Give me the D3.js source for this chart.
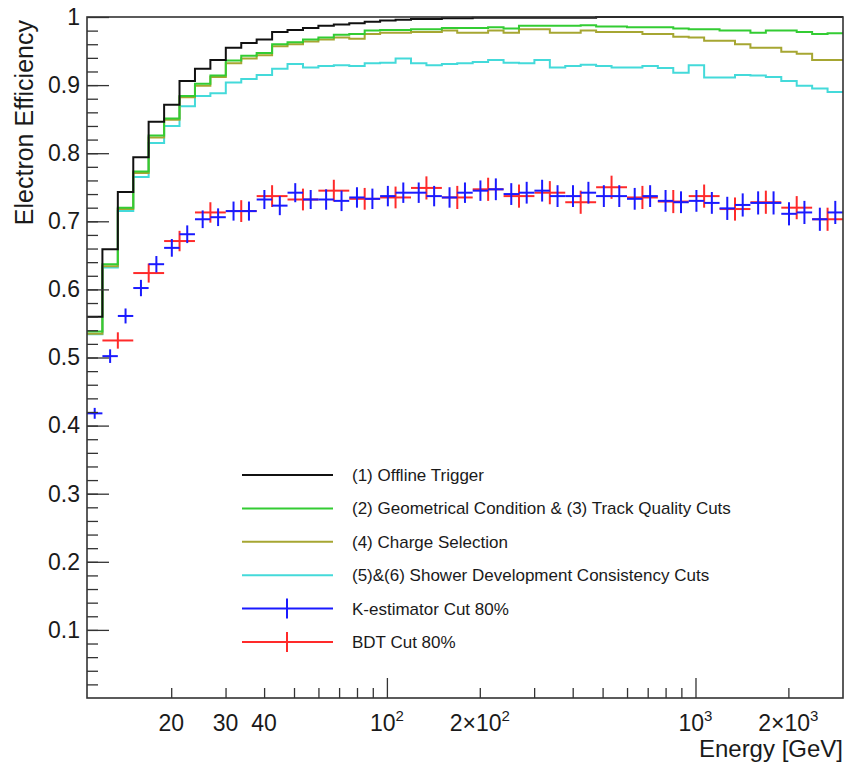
<!DOCTYPE html>
<html>
<head>
<meta charset="utf-8">
<script src="https://cdn.jsdelivr.net/npm/d3@7"></script>
<style>
  body { margin: 0; background: #fff; }
  svg text { font-family: "Liberation Sans", Arial, Helvetica, sans-serif; fill: #1a1a1a; }
</style>
</head>
<body>
<svg id="chart" width="847" height="765"></svg>
<script>
// bin edges in GeV (20 bins per decade)
const binEdges = [10.67, 11.97, 13.43, 15.07, 16.90, 18.97, 21.28, 23.88, 26.79, 30.06,
  33.73, 37.84, 42.46, 47.64, 53.46, 59.98, 67.30, 75.51, 84.72, 95.06,
  106.7, 119.7, 134.3, 150.7, 169.0, 189.7, 212.8, 238.8, 267.9, 300.6,
  337.3, 378.4, 424.6, 476.4, 534.6, 599.8, 673.0, 755.1, 847.2, 950.6,
  1066.6, 1196.7, 1342.8, 1506.6, 1690.4, 1896.7, 2128.1, 2387.8, 2679.2, 3006.1];

// BDT points use bins twice as wide
const bdtEdges = [11.97, 15.07, 18.97, 23.88, 30.06, 37.84, 47.64, 59.98, 75.51, 95.06,
  119.7, 150.7, 189.7, 238.8, 300.6, 378.4, 476.4, 599.8, 755.1, 950.6,
  1196.7, 1506.6, 1896.7, 2387.8, 3006.1];

const offlineTrigger = [0.560, 0.659, 0.743, 0.794, 0.846, 0.871, 0.906, 0.924, 0.937, 0.955,
  0.962, 0.967, 0.978, 0.981, 0.984, 0.987, 0.989, 0.991, 0.993, 0.995,
  0.996, 0.997, 0.997, 0.998, 0.998, 0.999, 0.999, 0.999, 0.999, 0.999,
  0.999, 0.999, 0.999, 1.000, 1.000, 1.000, 1.000, 1.000, 1.000, 1.000,
  1.000, 1.000, 1.000, 1.000, 1.000, 1.000, 1.000, 1.000, 1.000];

const geomTrackCuts = [0.538, 0.637, 0.720, 0.773, 0.826, 0.851, 0.884, 0.902, 0.914, 0.936,
  0.943, 0.947, 0.960, 0.963, 0.967, 0.970, 0.974, 0.975, 0.980, 0.981,
  0.981, 0.982, 0.982, 0.984, 0.984, 0.984, 0.985, 0.983, 0.987, 0.987,
  0.987, 0.987, 0.988, 0.986, 0.986, 0.985, 0.985, 0.985, 0.983, 0.982,
  0.982, 0.980, 0.980, 0.977, 0.980, 0.980, 0.978, 0.975, 0.976];

const chargeSelection = [0.535, 0.634, 0.718, 0.771, 0.823, 0.849, 0.882, 0.899, 0.912, 0.932,
  0.939, 0.944, 0.957, 0.960, 0.964, 0.967, 0.970, 0.968, 0.975, 0.977,
  0.977, 0.978, 0.978, 0.980, 0.977, 0.977, 0.980, 0.977, 0.982, 0.982,
  0.977, 0.977, 0.980, 0.978, 0.978, 0.978, 0.975, 0.975, 0.971, 0.970,
  0.965, 0.965, 0.960, 0.955, 0.955, 0.949, 0.946, 0.937, 0.937];

const showerCuts = [0.534, 0.632, 0.715, 0.765, 0.815, 0.840, 0.869, 0.884, 0.888, 0.904,
  0.909, 0.915, 0.924, 0.931, 0.926, 0.928, 0.929, 0.928, 0.932, 0.933,
  0.939, 0.932, 0.929, 0.931, 0.932, 0.934, 0.937, 0.933, 0.932, 0.937,
  0.926, 0.928, 0.930, 0.928, 0.926, 0.926, 0.928, 0.925, 0.918, 0.929,
  0.911, 0.911, 0.915, 0.914, 0.912, 0.906, 0.899, 0.895, 0.890];

const kEstimator = [0.418, 0.502, 0.561, 0.602, 0.637, 0.661, 0.681, 0.703, 0.706, 0.715,
  0.715, 0.732, 0.723, 0.742, 0.732, 0.732, 0.730, 0.735, 0.733, 0.737,
  0.742, 0.742, 0.737, 0.735, 0.742, 0.745, 0.747, 0.740, 0.742, 0.745,
  0.737, 0.737, 0.742, 0.737, 0.737, 0.733, 0.737, 0.730, 0.728, 0.730,
  0.727, 0.719, 0.724, 0.727, 0.727, 0.711, 0.713, 0.703, 0.713];
const kEstimatorErr = [0.008, 0.010, 0.011, 0.012, 0.012, 0.013, 0.013, 0.013, 0.013, 0.014,
  0.014, 0.014, 0.014, 0.014, 0.014, 0.015, 0.015, 0.015, 0.015, 0.015,
  0.015, 0.015, 0.015, 0.015, 0.015, 0.015, 0.016, 0.016, 0.016, 0.016,
  0.016, 0.016, 0.016, 0.016, 0.016, 0.016, 0.016, 0.016, 0.016, 0.016,
  0.016, 0.017, 0.017, 0.017, 0.017, 0.017, 0.017, 0.017, 0.017];

const bdt = [0.525, 0.624, 0.671, 0.713, 0.715, 0.737, 0.732, 0.745, 0.733, 0.735,
  0.749, 0.735, 0.747, 0.737, 0.742, 0.728, 0.750, 0.735, 0.729, 0.737,
  0.718, 0.728, 0.720, 0.703];
const bdtErr = [0.012, 0.014, 0.015, 0.015, 0.016, 0.016, 0.016, 0.016, 0.016, 0.016,
  0.017, 0.017, 0.017, 0.017, 0.017, 0.017, 0.017, 0.017, 0.017, 0.017,
  0.017, 0.017, 0.017, 0.017];

const yMajorTicks = [0.1, 0.2, 0.3, 0.4, 0.5, 0.6, 0.7, 0.8, 0.9, 1];
const xMajorTicks = [100, 1000];
const xMinorTicks = [20, 30, 40, 50, 60, 70, 80, 90, 200, 300, 400, 500, 600, 700, 800, 900, 2000];
const xTickLabels = [
  {v: 20, base: "20"}, {v: 30, base: "30"}, {v: 40, base: "40"},
  {v: 100, base: "10", exp: "2"}, {v: 200, base: "2\u00d710", exp: "2"},
  {v: 1000, base: "10", exp: "3"}, {v: 2000, base: "2\u00d710", exp: "3"}
];

const legendItems = [
  {label: "(1) Offline Trigger", color: "#111111", type: "line"},
  {label: "(2) Geometrical Condition & (3) Track Quality Cuts", color: "#33cc33", type: "line"},
  {label: "(4) Charge Selection", color: "#a6a632", type: "line"},
  {label: "(5)&(6) Shower Development Consistency Cuts", color: "#44dada", type: "line"},
  {label: "K-estimator Cut 80%", color: "#1a1aff", type: "err"},
  {label: "BDT Cut 80%", color: "#ff2a2a", type: "err"}
];

const plotLeft = 87, plotRight = 843, plotTop = 17, plotBottom = 698;

const svg = d3.select("#chart");

const x = d3.scaleLog()
  .domain([binEdges[0], binEdges[binEdges.length - 1]])
  .range([plotLeft, plotRight]);
const y = d3.scaleLinear().domain([0, 1]).range([plotBottom, plotTop]);

svg.append("defs").append("clipPath").attr("id", "plotclip")
  .append("rect")
  .attr("x", plotLeft).attr("y", plotTop - 2)
  .attr("width", plotRight - plotLeft).attr("height", plotBottom - plotTop + 2);

const plot = svg.append("g").attr("clip-path", "url(#plotclip)");

// step histograms
const stepLine = d3.line()
  .x(d => x(d[0]))
  .y(d => y(d[1]))
  .curve(d3.curveStepAfter);

function histPoints(vals) {
  return binEdges.map((e, i) => [e, vals[Math.min(i, vals.length - 1)]]);
}

const hists = [
  {vals: showerCuts, color: "#44dada"},
  {vals: chargeSelection, color: "#a6a632"},
  {vals: geomTrackCuts, color: "#33cc33"},
  {vals: offlineTrigger, color: "#111111"}
];
hists.forEach(h => {
  plot.append("path")
    .attr("d", stepLine(histPoints(h.vals)))
    .attr("fill", "none")
    .attr("stroke", h.color)
    .attr("stroke-width", 2);
});

// error crosses
function drawCrosses(edges, vals, errs, color) {
  const g = plot.append("g").attr("stroke", color).attr("stroke-width", 2);
  const data = vals.map((v, i) => ({
    x0: edges[i], x1: edges[i + 1],
    xc: Math.sqrt(edges[i] * edges[i + 1]),
    v: v, e: errs[i]
  }));
  g.selectAll("line.h").data(data).join("line")
    .attr("class", "h")
    .attr("x1", d => x(d.x0)).attr("x2", d => x(d.x1))
    .attr("y1", d => y(d.v)).attr("y2", d => y(d.v));
  g.selectAll("line.v").data(data).join("line")
    .attr("class", "v")
    .attr("x1", d => x(d.xc)).attr("x2", d => x(d.xc))
    .attr("y1", d => y(d.v - d.e)).attr("y2", d => y(d.v + d.e));
}
drawCrosses(bdtEdges, bdt, bdtErr, "#ff2a2a");
drawCrosses(binEdges, kEstimator, kEstimatorErr, "#1a1aff");

// axes (ticks drawn inside the frame)
const yAxis = svg.append("g")
  .attr("transform", `translate(${plotLeft},0)`)
  .call(d3.axisLeft(y).tickValues(yMajorTicks).tickSize(-22).tickSizeOuter(0)
    .tickPadding(7).tickFormat(d => d === 1 ? "1" : d3.format(".1f")(d)));
yAxis.select(".domain").remove();
yAxis.selectAll("text").style("font-size", "23px");

const yMinor = svg.append("g")
  .attr("transform", `translate(${plotLeft},0)`)
  .call(d3.axisLeft(y).tickValues(d3.range(0.02, 1, 0.02)).tickSize(-11).tickFormat(""));
yMinor.select(".domain").remove();

const xAxis = svg.append("g")
  .attr("transform", `translate(0,${plotBottom})`)
  .call(d3.axisBottom(x).tickValues(xMajorTicks).tickSize(-20).tickFormat(""));
xAxis.select(".domain").remove();
const xMinor = svg.append("g")
  .attr("transform", `translate(0,${plotBottom})`)
  .call(d3.axisBottom(x).tickValues(xMinorTicks).tickSize(-10).tickFormat(""));
xMinor.select(".domain").remove();

svg.selectAll(".tick line").attr("stroke", "#333").attr("stroke-width", 1.3);

// x tick labels with superscripts
const xl = svg.append("g").selectAll("text").data(xTickLabels).join("text")
  .attr("x", d => x(d.v))
  .attr("y", 731)
  .attr("text-anchor", "middle")
  .style("font-size", "23px");
xl.append("tspan").text(d => d.base);
xl.filter(d => d.exp).append("tspan")
  .attr("dy", -10).style("font-size", "15px").text(d => d.exp);

// frame
svg.append("rect")
  .attr("x", plotLeft).attr("y", plotTop)
  .attr("width", plotRight - plotLeft).attr("height", plotBottom - plotTop)
  .attr("fill", "none").attr("stroke", "#333").attr("stroke-width", 1.6);

// titles
svg.append("text")
  .attr("transform", `translate(33,${plotTop + 3}) rotate(-90)`)
  .attr("text-anchor", "end")
  .style("font-size", "25px")
  .text("Electron Efficiency");

svg.append("text")
  .attr("x", plotRight).attr("y", 757)
  .attr("text-anchor", "end")
  .style("font-size", "24px")
  .text("Energy [GeV]");

// legend
const legendY = d3.scalePoint().domain(legendItems.map(d => d.label)).range([475, 642]);
const lg = svg.append("g").selectAll("g").data(legendItems).join("g")
  .attr("transform", d => `translate(0,${legendY(d.label)})`);
lg.append("line")
  .attr("x1", 242).attr("x2", 333).attr("y1", 0).attr("y2", 0)
  .attr("stroke", d => d.color).attr("stroke-width", 2);
lg.filter(d => d.type === "err").append("line")
  .attr("x1", 287).attr("x2", 287).attr("y1", -10).attr("y2", 10)
  .attr("stroke", d => d.color).attr("stroke-width", 2);
lg.append("text")
  .attr("x", 352).attr("y", 0).attr("dy", "0.35em")
  .style("font-size", "17px")
  .text(d => d.label);
</script>
</body>
</html>
